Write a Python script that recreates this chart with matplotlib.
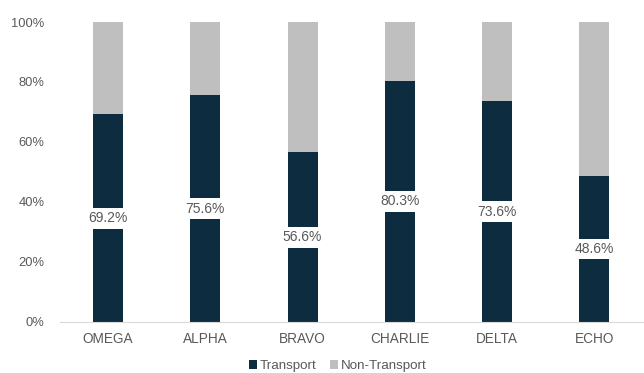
import matplotlib
matplotlib.use("Agg")
import matplotlib.pyplot as plt
from matplotlib.ticker import PercentFormatter

plt.rcParams['font.family'] = ['Liberation Sans', 'DejaVu Sans']

sites = ['OMEGA', 'ALPHA', 'BRAVO', 'CHARLIE', 'DELTA', 'ECHO']
transport = [69.2, 75.6, 56.6, 80.3, 73.6, 48.6]
non_transport = [100 - v for v in transport]

dark = '#0D2C40'
grey = '#BFBFBF'
txt = '#595959'

fig = plt.figure(figsize=(6.44, 3.73), dpi=100)
ax = fig.add_axes([0.0924, 0.137, 0.906, 0.804])

x = range(len(sites))
ax.bar(x, transport, width=0.31, color=dark, label='Transport', zorder=2)
ax.bar(x, non_transport, width=0.31, bottom=transport, color=grey, label='Non-Transport', zorder=2)

for i, v in enumerate(transport):
    ax.text(i, v / 2, f'{v:.1f}%', ha='center', va='center', fontsize=10, color=txt,
            bbox=dict(facecolor='white', edgecolor='none', pad=2.5), zorder=3)

ax.set_xlim(-0.5, len(sites) - 0.5)
ax.set_ylim(0, 100)
ax.set_yticks(range(0, 101, 20))
ax.yaxis.set_major_formatter(PercentFormatter(decimals=0))
ax.set_xticks(list(x))
ax.set_xticklabels(sites)
ax.tick_params(axis='x', length=0, labelsize=9.8, colors=txt, pad=7)
ax.tick_params(axis='y', length=0, labelsize=9.3, colors=txt, pad=11)

for s in ['top', 'right', 'left']:
    ax.spines[s].set_visible(False)
ax.spines['bottom'].set_color('#D9D9D9')

ax.legend(loc='center', bbox_to_anchor=(0.477, -0.147), ncol=2, frameon=False,
          fontsize=9.6, labelcolor=txt, handlelength=0.6, handleheight=0.6,
          handletextpad=0.25, columnspacing=1.0)

fig.savefig('out.png', dpi=100)
